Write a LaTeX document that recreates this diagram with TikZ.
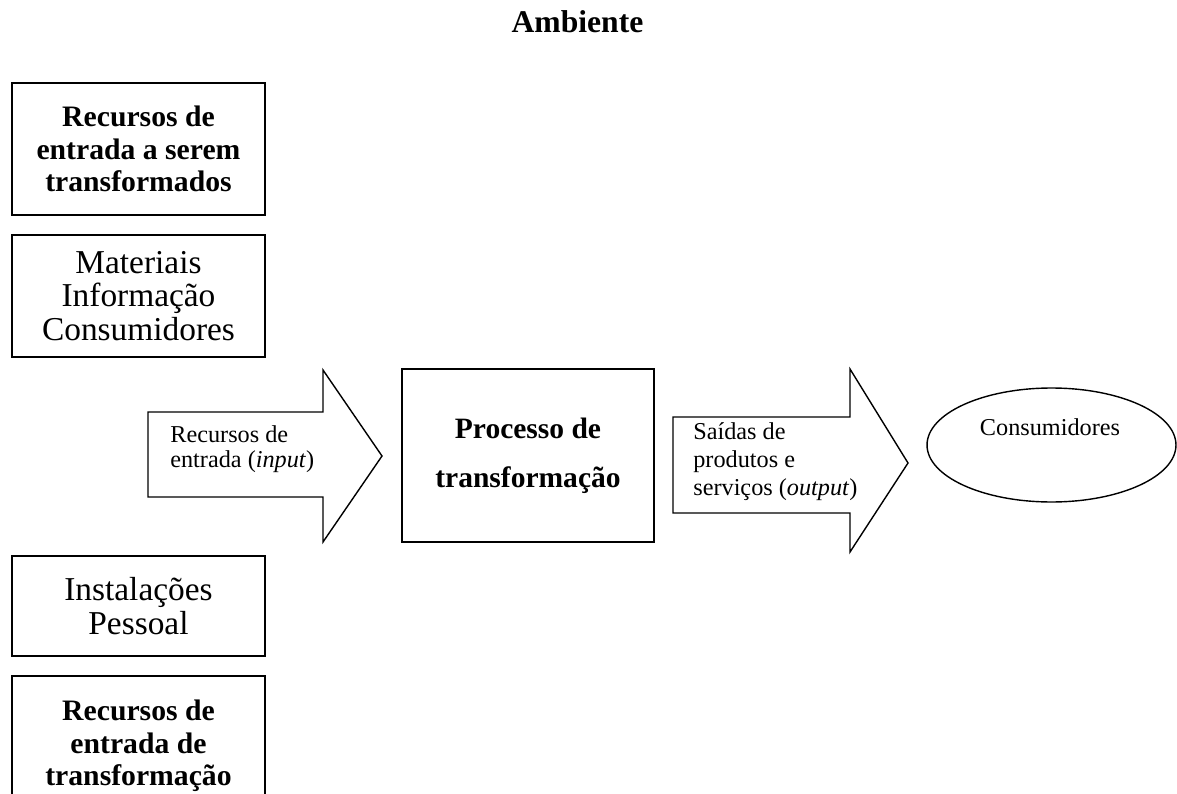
\documentclass[tikz,border=0pt]{standalone}
\usepackage{fontspec}
\setmainfont{Liberation Serif}
\usetikzlibrary{positioning,shapes.geometric}
\tikzset{
  caixa/.style={draw=black,line width=0.8pt,minimum width=5.06cm,inner sep=0pt,align=center},
  seta/.style={draw=black,line width=0.8pt,line join=miter},
  normal/.style={font=\fontsize{19}{19}\selectfont},
  negrito/.style={font=\fontsize{16.9}{18.5}\selectfont\bfseries},
  pequeno/.style={font=\fontsize{13.8}{14.2}\selectfont,inner sep=0pt,align=left},
}

\begin{document}
\begin{tikzpicture}[x=0.02cm,y=-0.02cm]
\useasboundingbox (0,0) rectangle (1177,794);
\node[font=\fontsize{18}{20}\selectfont\bfseries,anchor=base,inner sep=0pt] (amb) at (577.5,33) {Ambiente};
% caixas da esquerda
\node[caixa,negrito,minimum height=2.64cm] (transf) at (138.5,149) {Recursos de\\entrada a serem\\transformados};
\node[caixa,normal,minimum height=2.44cm] (mat) at (138.5,296) {Materiais\\Informação\\Consumidores};
\node[caixa,normal,minimum height=2.0cm] (inst) at (138.5,606) {Instalações\\Pessoal};
\node[caixa,negrito,minimum height=2.8cm] (transfde) at (138.5,746) {Recursos de\\entrada de\\transformação};
% seta de entrada
\coordinate (e1) at (148,412);
\coordinate (e2) at (323,412);
\coordinate (e3) at (323,370);
\coordinate (e4) at (382,456);
\coordinate (e5) at (323,542);
\coordinate (e6) at (323,497);
\coordinate (e7) at (148,497);
\draw[seta] (e1)--(e2)--(e3)--(e4)--(e5)--(e6)--(e7)--cycle;
\node[pequeno,anchor=base west] (input) at (170,467) {Recursos de\\entrada (\textit{input})};
% processo
\node[caixa,font=\fontsize{16.8}{27.9}\selectfont\bfseries,minimum width=5.04cm,minimum height=3.46cm] (proc) at (528,455.5) {Processo de\\transformação};
% seta de saida
\coordinate (s1) at (673,417);
\coordinate (s2) at (850,417);
\coordinate (s3) at (850,369);
\coordinate (s4) at (908,463);
\coordinate (s5) at (850,552);
\coordinate (s6) at (850,513);
\coordinate (s7) at (673,513);
\draw[seta] (s1)--(s2)--(s3)--(s4)--(s5)--(s6)--(s7)--cycle;
\node[pequeno,font=\fontsize{13.8}{15.9}\selectfont,anchor=base west] (output) at (693,495) {Saídas de\\produtos e\\serviços (\textit{output})};
% consumidores
\node[ellipse,draw=black,line width=0.8pt,minimum width=4.98cm,minimum height=2.28cm,inner sep=0pt] (cons) at (1051.5,445) {};
\node[pequeno,anchor=base] (consTxt) at (1050,435) {Consumidores};
\end{tikzpicture}
\end{document}
